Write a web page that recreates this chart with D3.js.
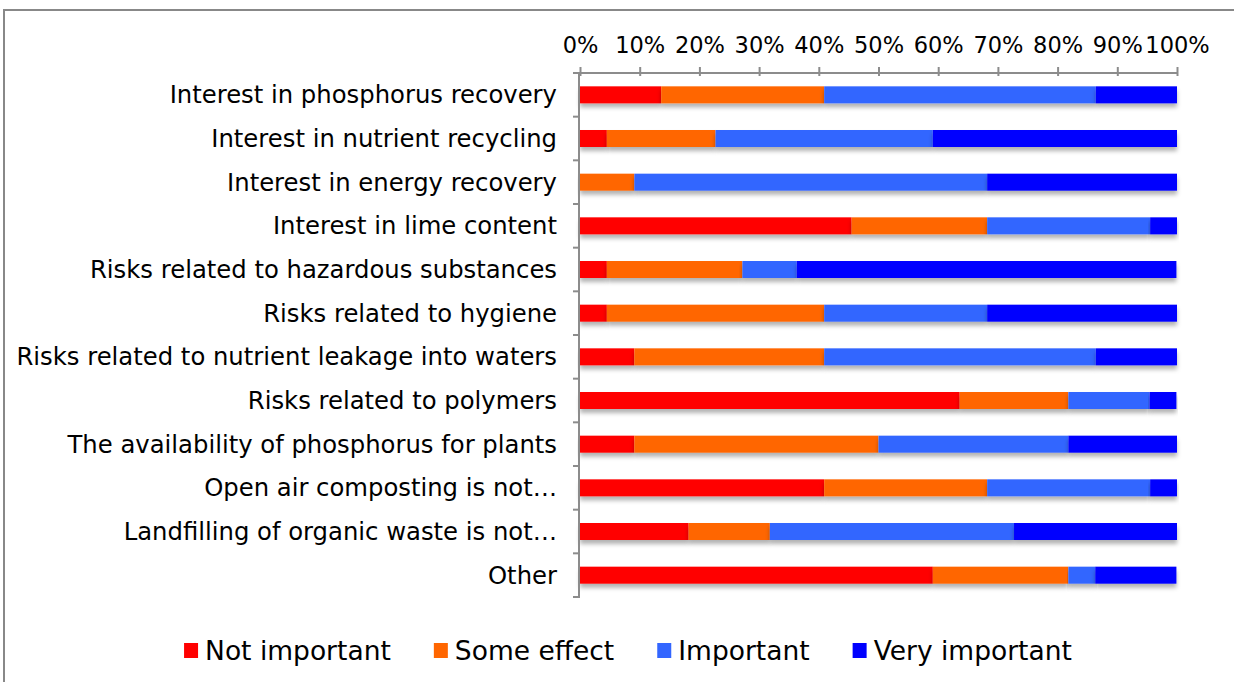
<!DOCTYPE html>
<html>
<head>
<meta charset="utf-8">
<script src="https://cdn.jsdelivr.net/npm/d3@7"></script>
<style>
  body { margin: 0; background: #fff; }
  svg { display: block; }
  text { font-family: Verdana, "DejaVu Sans", sans-serif; fill: #000; }
</style>
</head>
<body>
<div class="wrapper"></div>
<script>
// data (percent of respondents)
var categories = [
  'Interest in phosphorus recovery',
  'Interest in nutrient recycling',
  'Interest in energy recovery',
  'Interest in lime content',
  'Risks related to hazardous substances',
  'Risks related to hygiene',
  'Risks related to nutrient leakage into waters',
  'Risks related to polymers',
  'The availability of phosphorus for plants',
  'Open air composting is not\u2026',
  'Landfilling of organic waste is not\u2026',
  'Other'
];
var seriesNames = ['Not important', 'Some effect', 'Important', 'Very important'];
var notImportant  = [13.6, 4.5, 0.0, 45.5, 4.5, 4.5, 9.1, 63.6, 9.1, 40.9, 18.2, 59.1];
var someEffect    = [27.3, 18.2, 9.1, 22.7, 22.7, 36.4, 31.8, 18.2, 40.9, 27.3, 13.6, 22.7];
var important     = [45.5, 36.4, 59.1, 27.3, 9.1, 27.3, 45.5, 13.6, 31.8, 27.3, 40.9, 4.5];
var veryImportant = [13.6, 40.9, 31.8, 4.5, 63.6, 31.8, 13.6, 4.5, 18.2, 4.5, 27.3, 13.6];
var tickValues = [0, 10, 20, 30, 40, 50, 60, 70, 80, 90, 100];
var colors = ['#ff0000', '#ff6600', '#3366ff', '#0000ff'];

var W = 1234, H = 682;
var pLeft = 580, pRight = 1177, pTop = 73, pBottom = 597;

var rows = categories.map(function (c, i) {
  return { cat: c, s0: notImportant[i], s1: someEffect[i], s2: important[i], s3: veryImportant[i] };
});
var stack = d3.stack().keys(['s0', 's1', 's2', 's3']);
var layers = stack(rows);

var x = d3.scaleLinear().domain([0, 100]).range([pLeft, pRight]);
var y = d3.scaleBand().domain(categories).range([pTop, pBottom]).padding(0);
var barH = 17;

var svg = d3.select('.wrapper').append('svg')
  .attr('width', W).attr('height', H);

var defs = svg.append('defs');
var f = defs.append('filter').attr('id', 'shadow')
  .attr('x', '-5%').attr('y', '-50%').attr('width', '110%').attr('height', '250%');
f.append('feDropShadow').attr('dx', 0).attr('dy', 4).attr('stdDeviation', 2)
  .attr('flood-color', '#000').attr('flood-opacity', 0.3);
var g2 = defs.append('filter').attr('id', 'gshadow')
  .attr('x', '-200%').attr('y', '-5%').attr('width', '500%').attr('height', '110%');
g2.append('feDropShadow').attr('dx', 2).attr('dy', 0).attr('stdDeviation', 1)
  .attr('flood-color', '#000').attr('flood-opacity', 0.3);

// outer frame
svg.append('rect')
  .attr('x', 4).attr('y', 10).attr('width', W + 20).attr('height', H + 20)
  .attr('fill', 'none').attr('stroke', '#888').attr('stroke-width', 2);

// gridlines
svg.append('g').selectAll('line')
  .data(tickValues.slice(1))
  .enter().append('line')
  .attr('x1', function (d) { return x(d); }).attr('x2', function (d) { return x(d); })
  .attr('y1', pTop).attr('y2', pBottom)
  .attr('stroke', '#8c8c8c').attr('stroke-width', 2)
  .attr('filter', 'url(#gshadow)');

// bars
svg.append('g').selectAll('g')
  .data(layers)
  .enter().append('g')
  .attr('fill', function (d, i) { return colors[i]; })
  .selectAll('rect')
  .data(function (d) { return d; })
  .enter().append('rect')
  .attr('x', function (d) { return x(d[0]); })
  .attr('width', function (d) { return x(d[1]) - x(d[0]); })
  .attr('y', function (d) { return y(d.data.cat) + y.bandwidth() / 2 - barH / 2; })
  .attr('height', barH)
  .attr('filter', 'url(#shadow)');

// top axis
var xAxis = d3.axisTop(x).tickValues(tickValues)
  .tickFormat(function (d) { return d + '%'; })
  .tickSize(6).tickPadding(14);
var gx = svg.append('g').attr('transform', 'translate(0,' + pTop + ')').call(xAxis);
gx.select('.domain').attr('stroke', '#8c8c8c').attr('stroke-width', 2)
  .attr('d', 'M' + (pLeft - 5) + ',0H' + pRight);
gx.selectAll('.tick line').attr('stroke', '#8c8c8c').attr('stroke-width', 2).attr('y2', 3).attr('y1', -6);
gx.selectAll('.tick text').style('font-size', '22.5px');

// left axis
var yAxis = d3.axisLeft(y).tickSize(0).tickPadding(22);
var gy = svg.append('g').attr('transform', 'translate(' + (pLeft - 1) + ',0)').call(yAxis);
gy.select('.domain').attr('stroke', '#8c8c8c').attr('stroke-width', 2)
  .attr('d', 'M0,' + pTop + 'V' + (pBottom + 1));
gy.selectAll('.tick text').style('font-size', '24.3px').attr('dy', '0.35em');
gy.append('g').selectAll('line')
  .data(d3.range(categories.length + 1))
  .enter().append('line')
  .attr('x1', -6).attr('x2', 0)
  .attr('y1', function (i) { return pTop + i * y.step(); })
  .attr('y2', function (i) { return pTop + i * y.step(); })
  .attr('stroke', '#8c8c8c').attr('stroke-width', 2);

// legend
var legend = svg.append('g');
var items = legend.selectAll('g').data(seriesNames).enter().append('g');
items.append('rect').attr('width', 14).attr('height', 15).attr('y', -8)
  .attr('fill', function (d, i) { return colors[i]; });
items.append('text').attr('x', 21).attr('dy', '0.35em')
  .style('font-size', '26.5px').text(function (d) { return d; });
var xpos = 0, positions = [];
items.each(function () {
  positions.push(xpos);
  xpos += 21 + d3.select(this).select('text').node().getComputedTextLength() + 43;
});
var total = xpos - 43;
var startX = 628 - total / 2;
items.attr('transform', function (d, i) { return 'translate(' + (startX + positions[i]) + ',651)'; });
</script>
</body>
</html>
